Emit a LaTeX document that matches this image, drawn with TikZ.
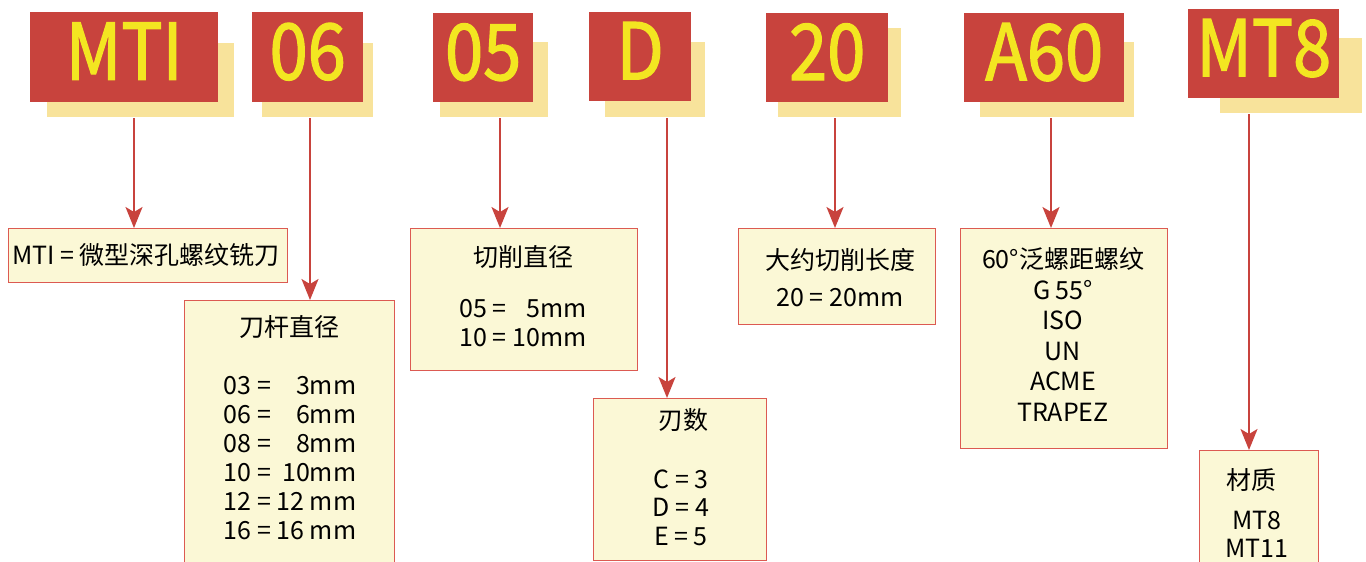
\documentclass[tikz,border=0pt]{standalone}
\usepackage{fontspec}
\setmainfont{Noto Sans CJK SC}
\newfontfamily\tagfont[FakeStretch=0.88,FakeBold=1.6]{Noto Sans CJK SC}
\usetikzlibrary{arrows.meta}
\definecolor{tagred}{HTML}{C8433D}
\definecolor{tagyellow}{HTML}{F3E621}
\definecolor{tagshadow}{HTML}{F8E39B}
\definecolor{boxfill}{HTML}{FBF8D6}
\definecolor{boxline}{HTML}{DC5A52}
\begin{document}
\begin{tikzpicture}[x=1pt,y=-1pt,
  tag/.style={fill=tagred,text=tagyellow,anchor=north west,inner sep=0pt,text depth=12pt,font=\tagfont\fontsize{78}{78}\selectfont},
  back/.style={fill=tagshadow,anchor=north west,inner sep=0pt},
  infobox/.style={fill=boxfill,draw=boxline,line width=1.2pt,anchor=north west,inner sep=0pt},
  txt/.style={align=center,inner sep=0pt,anchor=base,font=\fontsize{25}{29}\selectfont},
  arr/.style={draw=tagred,line width=2pt,-{Stealth[length=21pt,width=17pt,inset=5pt]}}]
\useasboundingbox (0,0) rectangle (1366,562);
\node[back,minimum width=187pt,minimum height=74pt] (mtis) at (47,43) {};
\node[tag,minimum width=188pt,minimum height=90pt] (mti) at (30,12) {MTI};
\node[back,minimum width=111pt,minimum height=74pt] (dias) at (262,43) {};
\node[tag,minimum width=111pt,minimum height=90pt] (dia) at (252,12) {06};
\node[back,minimum width=108pt,minimum height=75pt] (cuts) at (440,42) {};
\node[tag,minimum width=100pt,minimum height=89pt] (cut) at (433,13) {05};
\node[back,minimum width=100pt,minimum height=75pt] (flus) at (605,42) {};
\node[tag,minimum width=102pt,minimum height=89pt] (flu) at (589,12) {D};
\node[back,minimum width=123pt,minimum height=89pt] (lens) at (778,28) {};
\node[tag,minimum width=122pt,minimum height=89pt] (len) at (766,13) {20};
\node[back,minimum width=154pt,minimum height=75pt] (thrs) at (980,42) {};
\node[tag,minimum width=160pt,minimum height=89pt] (thr) at (964,13) {A60};
\node[back,minimum width=142pt,minimum height=75pt] (mats) at (1220,38) {};
\node[tag,minimum width=151pt,minimum height=89pt] (mat) at (1188,9) {MT8};

\node[infobox,minimum width=279pt,minimum height=54pt] (mtib) at (8,228) {};
\node[txt,anchor=base west] (mtit) at (12,264) {MTI = 微型深孔螺纹铣刀};
\node[infobox,minimum width=210pt,minimum height=280pt] (diab) at (184,300) {};
\node[txt] (diat) at (289,336) {刀杆直径};
\node[txt] (diav) at (290,394) {\begin{tabular}[t]{@{}r@{ = }r@{}}03&3mm\\06&6mm\\08&8mm\\10&10mm\\12&12 mm\\16&16 mm\end{tabular}};
\node[infobox,minimum width=227pt,minimum height=142pt] (cutb) at (410,228) {};
\node[txt] (cutt) at (523,266) {切削直径};
\node[txt] (cutv) at (523,317) {\begin{tabular}[t]{@{}r@{ = }r@{}}05&5mm\\10&10mm\end{tabular}};
\node[infobox,minimum width=173pt,minimum height=162pt] (flub) at (593,398) {};
\node[txt] (flut) at (683,429) {刃数};
\node[txt,font=\fontsize{25}{28.5}\selectfont] (fluv) at (681,545) {C = 3\\D = 4\\E = 5};
\node[infobox,minimum width=197pt,minimum height=96pt] (lenb) at (738,228) {};
\node[txt] (lent) at (840,269) {大约切削长度};
\node[txt] (lenv) at (840,306) {20 = 20mm};
\node[infobox,minimum width=207pt,minimum height=220pt] (thrb) at (960,228) {};
\node[txt,font=\fontsize{25}{30.5}\selectfont] (thrt) at (1063,421) {60°泛螺距螺纹\\G 55°\\ISO\\UN\\ACME\\TRAPEZ};
\node[infobox,minimum width=119pt,minimum height=130pt] (matb) at (1199,450) {};
\node[txt] (matt) at (1251,489) {材质};
\node[txt,font=\fontsize{25}{28}\selectfont] (matv) at (1257,557) {MT8\\MT11};

\coordinate (p1) at (134,118);
\coordinate (p2) at (310,118);
\coordinate (p3) at (500,118);
\coordinate (p4) at (667,118);
\coordinate (p5) at (835,118);
\coordinate (p6) at (1051,118);
\coordinate (p7) at (1249,114);
\draw[arr] (p1) -- (p1 |- mtib.north);
\draw[arr] (p2) -- (p2 |- diab.north);
\draw[arr] (p3) -- (p3 |- cutb.north);
\draw[arr] (p4) -- (p4 |- flub.north);
\draw[arr] (p5) -- (p5 |- lenb.north);
\draw[arr] (p6) -- (p6 |- thrb.north);
\draw[arr] (p7) -- (p7 |- matb.north);
\end{tikzpicture}
\end{document}
